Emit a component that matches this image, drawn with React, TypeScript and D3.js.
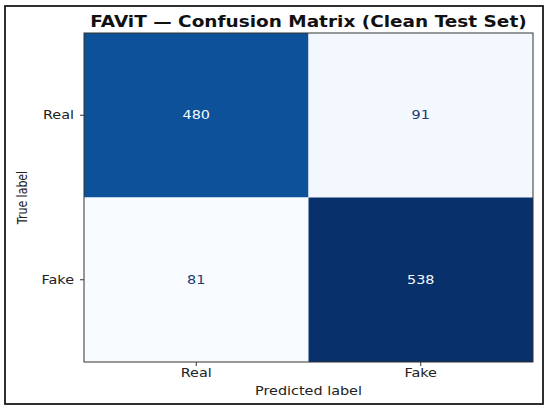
import React from 'react';
import * as d3 from 'd3';

const classes = ['Real', 'Fake'];
// rows = true label, cols = predicted label
const counts = [
  [480, 91],
  [81, 538],
];
const title = 'FAViT — Confusion Matrix (Clean Test Set)';
const xTitle = 'Predicted label';
const yTitle = 'True label';

const W = 550;
const H = 411;
const margin = { top: 33, right: 17, bottom: 49, left: 84 };
const SX = 1.2; // the reference is stretched sideways a bit
const font = 'DejaVu Sans, sans-serif';

const App: React.FC = () => {
  const x = d3.scaleBand<string>().domain(classes).range([margin.left, W - margin.right]);
  const y = d3.scaleBand<string>().domain(classes).range([margin.top, H - margin.bottom]);

  const flat = counts.flat();
  const lo = d3.min(flat) as number;
  const hi = d3.max(flat) as number;
  const color = d3.scaleSequential(d3.interpolateBlues).domain([lo, hi]);
  const mid = (lo + hi) / 2;

  const cells = classes.flatMap((t, i) =>
    classes.map((p, j) => ({ t, p, v: counts[i][j] }))
  );

  const x0 = margin.left;
  const x1 = W - margin.right;
  const y0 = margin.top;
  const y1 = H - margin.bottom;

  return (
    <svg width={W} height={H} style={{ position: 'absolute', left: 0, top: 0, background: '#fff' }}>
      {/* outer frame */}
      <rect x={5} y={6} width={538} height={398} fill="#fff" stroke="#1a1a1a" strokeWidth={1.8} />

      {/* title */}
      <text
        transform={`translate(${(x0 + x1) / 2},27) scale(${SX},1)`}
        textAnchor="middle"
        fontFamily={font}
        fontWeight="bold"
        fontSize={15.4}
        fill="#111"
      >
        {title}
      </text>

      {/* cells */}
      {cells.map(c => (
        <rect
          key={`${c.t}-${c.p}`}
          x={x(c.p)}
          y={y(c.t)}
          width={x.bandwidth()}
          height={y.bandwidth()}
          fill={color(c.v)}
        />
      ))}
      {cells.map(c => (
        <text
          key={`v-${c.t}-${c.p}`}
          transform={`translate(${(x(c.p) || 0) + x.bandwidth() / 2},${(y(c.t) || 0) + y.bandwidth() / 2}) scale(${SX},1)`}
          textAnchor="middle"
          dominantBaseline="central"
          fontFamily={font}
          fontSize={12}
          fill={c.v > mid ? '#f7fbff' : '#1c3b6e'}
        >
          {c.v}
        </text>
      ))}

      {/* spines */}
      <rect x={x0} y={y0} width={x1 - x0} height={y1 - y0} fill="none" stroke="#333" strokeWidth={1} />

      {/* y ticks */}
      {classes.map(c => {
        const cy = (y(c) || 0) + y.bandwidth() / 2;
        return (
          <g key={`yt-${c}`}>
            <line x1={x0 - 4} x2={x0} y1={cy} y2={cy} stroke="#333" strokeWidth={1} />
            <text
              transform={`translate(${x0 - 10},${cy}) scale(${SX},1)`}
              textAnchor="end"
              dominantBaseline="central"
              fontFamily={font}
              fontSize={12}
              fill="#222"
            >
              {c}
            </text>
          </g>
        );
      })}

      {/* x ticks */}
      {classes.map(c => {
        const cx = (x(c) || 0) + x.bandwidth() / 2;
        return (
          <g key={`xt-${c}`}>
            <line x1={cx} x2={cx} y1={y1} y2={y1 + 4} stroke="#333" strokeWidth={1} />
            <text
              transform={`translate(${cx},${y1 + 15}) scale(${SX},1)`}
              textAnchor="middle"
              fontFamily={font}
              fontSize={12}
              fill="#222"
            >
              {c}
            </text>
          </g>
        );
      })}

      {/* axis titles */}
      <text
        transform={`translate(${(x0 + x1) / 2},${y1 + 33}) scale(${SX},1)`}
        textAnchor="middle"
        fontFamily={font}
        fontSize={12}
        fill="#222"
      >
        {xTitle}
      </text>
      <text
        transform={`translate(27,${(y0 + y1) / 2}) scale(${SX},1) rotate(-90)`}
        textAnchor="middle"
        fontFamily={font}
        fontSize={11}
        fill="#222"
      >
        {yTitle}
      </text>
    </svg>
  );
};

export default App;
